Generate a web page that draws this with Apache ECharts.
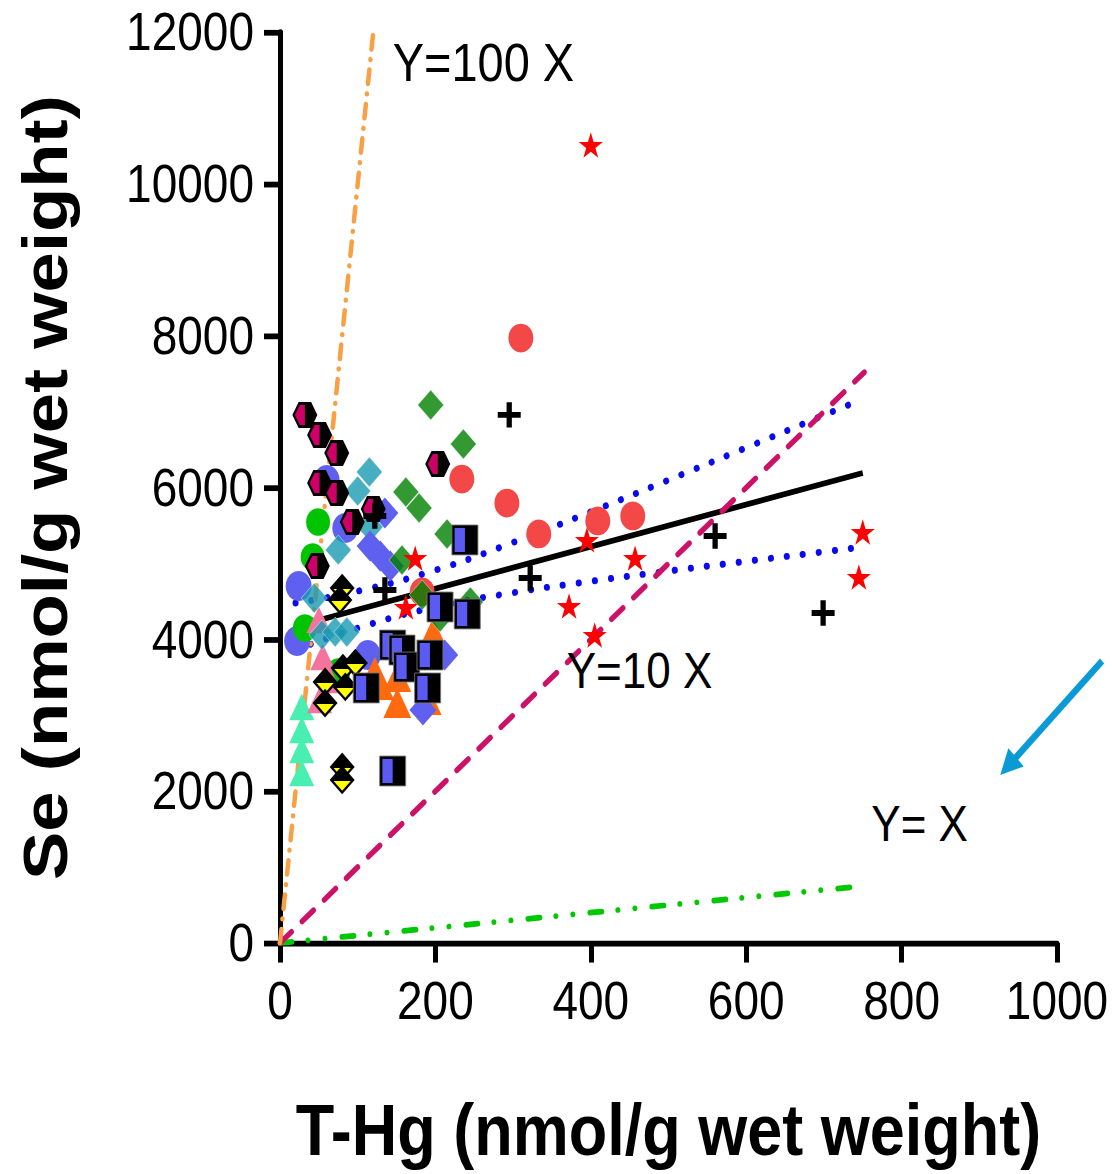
<!DOCTYPE html>
<html>
<head>
<meta charset="utf-8">
<script src="https://cdn.jsdelivr.net/npm/echarts@6.0.0/dist/echarts.min.js"></script>
<style>
  html, body { margin: 0; padding: 0; background: #ffffff; width: 1112px; height: 1174px; overflow: hidden; }
  #frame { position: relative; width: 1112px; height: 1174px; overflow: hidden; }
  /* the figure is drawn at its native proportions and stretched vertically */
  #chart { position: absolute; left: 0; top: 0; width: 1112px; height: 1021px; transform: scaleY(1.15); transform-origin: 0 0; }
</style>
</head>
<body>
<div id="frame"><div id="chart"></div></div>
<script>
// ---- axis ranges ----
const xMax = 1000, xStep = 200;
const yMax = 12000, yStep = 2000;
const xTitle = 'T-Hg (nmol/g wet weight)';
const yTitle = 'Se (nmol/g wet weight)';

// ---- reference ratio lines [T-Hg, Se] ----
const ratio100 = [[0, 0], [120, 12000]];
const ratio10 = [[0, 0], [752, 7520]];
const ratio1 = [[0, 0], [752, 752]];
const ratioLabels = ['Y=100 X', 'Y=10 X', 'Y= X'];

// ---- regression fit and its confidence band ----
const fitLine = [[20, 4170], [750, 6192]];
const bandUpper = [[20, 4480], [100, 4635], [200, 4912], [300, 5277], [400, 5681], [500, 6100], [600, 6526], [700, 6954], [750, 7167]];
const bandLower = [[20, 3860], [100, 4149], [200, 4426], [300, 4615], [400, 4765], [500, 4900], [600, 5028], [700, 5154], [750, 5217]];

// ---- measured samples [T-Hg, Se] ----
const redCircles = [[310, 7971], [234, 6113], [292, 5797], [333, 5389], [409, 5560], [454, 5626], [183, 4625]];
const violetCircles = [[24, 4704], [22, 3979], [113, 3794], [60, 6100], [84, 5468]];
const greenCircles = [[49, 5547], [42, 5086], [32, 4150], [75, 3570]];
const aquaTriangles = [[28, 3109], [28, 2806], [28, 2543], [28, 2240]];
const pinkTriangles = [[50, 4255], [55, 3768], [51, 3202], [64, 3465]];
const orangeTriangles = [[129, 3400], [151, 3505], [151, 3162], [197, 4084], [190, 3202], [167, 3663], [122, 3570]];
const tealDiamonds = [[115, 6206], [100, 5955], [116, 5481], [75, 5178], [44, 4545], [54, 4058], [71, 4097], [86, 4097]];
const violetDiamonds = [[116, 5230], [129, 5099], [142, 4967], [135, 5665], [212, 3794], [184, 3070]];
const greenDiamonds = [[194, 7088], [236, 6574], [162, 5942], [179, 5731], [215, 5389], [157, 5046], [183, 4585], [206, 4295], [245, 4493]];
const redStars = [[400, 10514], [174, 5072], [162, 4427], [395, 5310], [457, 5072], [372, 4440], [405, 4058], [750, 5415], [745, 4822]];
const yellowDiamonds = [[80, 4677], [77, 4519], [58, 3439], [58, 3162], [81, 3623], [97, 3689], [84, 3373], [80, 2319], [80, 2148]];
const crosses = [[295, 6957], [322, 4809], [560, 5362], [699, 4348], [135, 4651], [122, 5626]];
const halfSquares = [[238, 5310], [206, 4427], [241, 4335], [145, 3926], [157, 3860], [163, 3636], [193, 3794], [190, 3360], [111, 3360], [145, 2266]];
const halfHexagons = [[32, 6957], [51, 6693], [73, 6456], [51, 6061], [73, 5929], [93, 5547], [120, 5718], [203, 6311], [48, 4967]];

// ---- symbols ----
const FONT = '"Liberation Sans", Arial, Helvetica, sans-serif';
const starPath = 'path://M12,0 L14.69,8.29 L23.41,8.29 L16.36,13.42 L19.05,21.71 L12,16.58 L4.95,21.71 L7.64,13.42 L0.59,8.29 L9.31,8.29 Z';
const plusPath = 'path://M9.25,0 H14.75 V9.25 H24 V14.75 H14.75 V24 H9.25 V14.75 H0 V9.25 H9.25 Z';

function offsetPts(c, list) {
  return list.map(p => [c[0] + p[0], c[1] + p[1]]);
}
function poly(points, fill) {
  return { type: 'polygon', shape: { points: points }, style: { fill: fill } };
}

// black hexagon, left half magenta
function renderHalfHex(params, api) {
  const c = api.coord([api.value(0), api.value(1)]);
  const w = 12.5, h = 11.25, iw = 10, ih = 8.7;
  return {
    type: 'group',
    children: [
      poly(offsetPts(c, [[-w, 0], [-w / 2, -h], [w / 2, -h], [w, 0], [w / 2, h], [-w / 2, h]]), '#000000'),
      poly(offsetPts(c, [[-iw, 0], [-iw / 2, -ih], [0, -ih], [0, ih], [-iw / 2, ih]]), '#CC0066')
    ]
  };
}
// black square, left half blue
function renderHalfSquare(params, api) {
  const c = api.coord([api.value(0), api.value(1)]);
  const s = 13;
  return {
    type: 'group',
    children: [
      { type: 'rect', shape: { x: c[0] - s, y: c[1] - s, width: 2 * s, height: 2 * s }, style: { fill: '#000000', stroke: '#777777', lineWidth: 0.8 } },
      { type: 'rect', shape: { x: c[0] - 10.3, y: c[1] - 10.5, width: 10.3, height: 21 }, style: { fill: '#5B5BF3' } }
    ]
  };
}
// black diamond with a yellow down-pointing triangle
function renderDiamondTri(params, api) {
  const c = api.coord([api.value(0), api.value(1)]);
  const d = 12.5;
  return {
    type: 'group',
    children: [
      poly(offsetPts(c, [[0, -d], [d, 0], [0, d], [-d, 0]]), '#000000'),
      poly(offsetPts(c, [[-8.6, 0.8], [8.6, 0.8], [0, 9.4]]), '#FFFF00')
    ]
  };
}

function refLine(data, color, width, dash, z) {
  return {
    type: 'line', data: data, showSymbol: false, symbol: 'none', silent: true, z: z,
    lineStyle: { color: color, width: width, type: dash, cap: 'round' }
  };
}
function dots(data, symbol, size, color, extra) {
  return Object.assign({
    type: 'scatter', data: data, symbol: symbol, symbolSize: size, z: 3,
    itemStyle: { color: color, opacity: 1 }
  }, extra || {});
}
function compound(data, render) {
  return { type: 'custom', coordinateSystem: 'cartesian2d', data: data, renderItem: render, z: 4, clip: false };
}

const chart = echarts.init(document.getElementById('chart'), null, { renderer: 'svg' });

const plainNumber = v => String(v);
const titleStyle = { color: '#000000', fontSize: 63, fontWeight: 'bold', fontFamily: FONT };
const axisCommon = {
  type: 'value',
  splitLine: { show: false },
  axisLine: { show: true, onZero: false, lineStyle: { color: '#000000', width: 5 } },
  axisTick: { show: true, inside: false, lineStyle: { color: '#000000', width: 5 } }
};

chart.setOption({
  animation: false,
  backgroundColor: '#ffffff',
  grid: { left: 280, right: 55, top: 28, bottom: 201, containLabel: false, outerBoundsMode: 'none' },
  xAxis: Object.assign({}, axisCommon, {
    min: 0, max: xMax, interval: xStep,
    axisTick: Object.assign({}, axisCommon.axisTick, { length: 17 }),
    axisLabel: { margin: 27, color: '#000000', fontSize: 46, fontFamily: FONT, formatter: plainNumber },
    name: xTitle, nameLocation: 'middle', nameGap: 131, nameMoveOverlap: false,
    nameTextStyle: titleStyle
  }),
  yAxis: Object.assign({}, axisCommon, {
    min: 0, max: yMax, interval: yStep,
    axisTick: Object.assign({}, axisCommon.axisTick, { length: 16 }),
    axisLabel: { margin: 26, color: '#000000', fontSize: 46, fontFamily: FONT, formatter: plainNumber },
    name: yTitle, nameLocation: 'middle', nameGap: 203, nameMoveOverlap: false,
    nameTextStyle: titleStyle
  }),
  series: [
    refLine(ratio1, '#00C800', 5, [12, 16, 0.1, 17, 0.1, 17], 1),
    Object.assign(refLine(bandUpper, '#0A0AF0', 6, [0.1, 16], 1), { smooth: true }),
    Object.assign(refLine(bandLower, '#0A0AF0', 6, [0.1, 16], 1), { smooth: true }),
    { type: 'line', data: fitLine, showSymbol: false, symbol: 'none', silent: true, z: 1, lineStyle: { color: '#000000', width: 5, type: 'solid' } },
    refLine(ratio10, '#CC1166', 5, [15, 14], 1),
    refLine(ratio100, '#F8A043', 4.5, [12, 9, 0.1, 9], 1),

    dots(redCircles, 'circle', 25, '#F44848'),
    dots(violetCircles, 'circle', 26, '#6060F0'),
    dots(greenCircles, 'circle', 24, '#00C400'),
    dots(aquaTriangles, 'triangle', [25, 23], '#48EFB0'),
    dots(pinkTriangles, 'triangle', [25, 23], '#F4749E'),
    dots(orangeTriangles, 'triangle', [28, 26], '#FF6A10'),
    dots(tealDiamonds, 'diamond', [26, 26], '#1A9AB2', { itemStyle: { color: '#1A9AB2', borderColor: '#ffffff', borderWidth: 0.5 } }),
    dots(violetDiamonds, 'diamond', [27, 27], '#6060F0'),
    dots(greenDiamonds, 'diamond', [26, 26], '#008000', { itemStyle: { color: '#008000', borderColor: '#ffffff', borderWidth: 0.5 } }),
    dots(redStars, starPath, [24, 22], '#FF0000'),
    compound(yellowDiamonds, renderDiamondTri),
    dots(crosses, plusPath, [23, 22], '#000000', { z: 4 }),
    compound(halfSquares, renderHalfSquare),
    compound(halfHexagons, renderHalfHex)
  ]
});

// ---- ratio-line labels and the pointer arrow ----
const toPx = p => chart.convertToPixel({ gridIndex: 0 }, p);
const graphics = [];
const labelAnchors = [[145, 11607], [369, 3597], [761, 1581]];
const labelSizes = [47, 44, 44];
ratioLabels.forEach((t, i) => {
  const p = toPx(labelAnchors[i]);
  graphics.push({
    type: 'text', x: p[0], y: p[1], z: 10,
    style: { text: t, fill: '#000000', font: labelSizes[i] + 'px ' + FONT, align: 'left', verticalAlign: 'middle' }
  });
});

const a0 = toPx([1058, 3715]);
const a1 = toPx([927, 2214]);
const dx = a1[0] - a0[0], dy = a1[1] - a0[1];
const len = Math.sqrt(dx * dx + dy * dy);
const ux = dx / len, uy = dy / len;
const headLen = 22, headHalf = 11;
const bx = a1[0] - ux * headLen, by = a1[1] - uy * headLen;
graphics.push({
  type: 'line', z: 10,
  shape: { x1: a0[0], y1: a0[1], x2: bx + ux * 2, y2: by + uy * 2 },
  style: { stroke: '#0A9AD6', lineWidth: 6 }
});
graphics.push({
  type: 'polygon', z: 10,
  shape: { points: [[a1[0], a1[1]], [bx - uy * headHalf, by + ux * headHalf], [bx + uy * headHalf, by - ux * headHalf]] },
  style: { fill: '#0A9AD6' }
});
chart.setOption({ graphic: graphics });
</script>
</body>
</html>
